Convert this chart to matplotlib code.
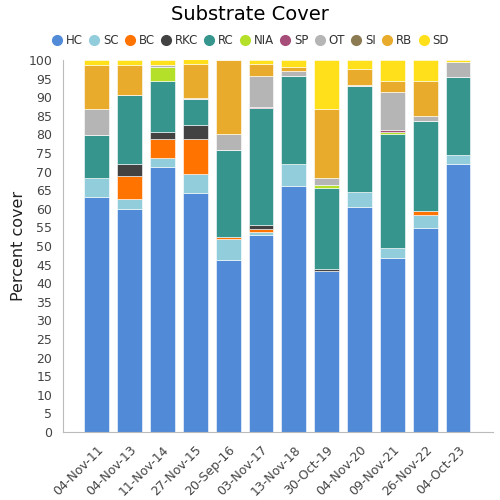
import matplotlib
matplotlib.use("Agg")
import matplotlib.pyplot as plt
import numpy as np
from matplotlib.lines import Line2D

dates = ["04-Nov-11", "04-Nov-13", "11-Nov-14", "27-Nov-15", "20-Sep-16", "03-Nov-17",
         "13-Nov-18", "30-Oct-19", "04-Nov-20", "09-Nov-21", "26-Nov-22", "04-Oct-23"]
categories = ["HC", "SC", "BC", "RKC", "RC", "NIA", "SP", "OT", "SI", "RB", "SD"]

HC  = [63.1, 60.0, 71.2, 64.3, 46.2, 53.0, 66.2, 43.3, 60.6, 46.9, 54.9, 72.0]
SC  = [5.1, 2.6, 2.5, 5.1, 5.7, 0.8, 5.8, 0.0, 3.8, 2.5, 3.3, 2.5]
BC  = [0.0, 6.2, 5.1, 9.4, 0.6, 0.7, 0.0, 0.0, 0.0, 0.0, 1.2, 0.0]
RKC = [0.0, 3.2, 1.8, 3.7, 0.0, 1.1, 0.0, 0.4, 0.0, 0.0, 0.0, 0.0]
RC  = [11.6, 18.6, 13.8, 7.0, 23.2, 31.4, 23.6, 22.0, 28.6, 30.6, 24.3, 21.0]
NIA = [0.0, 0.0, 3.6, 0.0, 0.0, 0.0, 0.0, 0.7, 0.0, 0.6, 0.0, 0.0]
SP  = [0.0, 0.0, 0.0, 0.0, 0.0, 0.4, 0.0, 0.0, 0.0, 0.6, 0.0, 0.0]
OT  = [7.1, 0.0, 0.7, 0.2, 4.3, 8.3, 1.4, 1.8, 0.3, 10.1, 1.2, 3.9]
SI  = [0.0] * 12
RB  = [11.8, 8.1, 0.0, 9.2, 20.0, 3.1, 1.2, 18.7, 4.2, 3.1, 9.5, 0.0]
SD  = [1.3, 1.3, 1.3, 1.3, 0.0, 1.3, 1.8, 13.1, 2.5, 5.6, 5.6, 0.6]

colors = ["#518bd7", "#92cddc", "#ff7300", "#424242", "#36968d", "#b5e02a",
          "#a64d79", "#b5b5b5", "#8c7b52", "#e9ab2b", "#ffe01a"]

series = [HC, SC, BC, RKC, RC, NIA, SP, OT, SI, RB, SD]

fig = plt.figure(figsize=(5, 5), dpi=100)
ax = fig.add_axes([0.1266, 0.136, 0.8584, 0.744])

x = np.arange(len(dates))
bottom = np.zeros(len(dates))
for vals, col in zip(series, colors):
    v = np.array(vals)
    ax.bar(x, v, bottom=bottom, width=0.76, color=col, edgecolor="white", linewidth=0.4)
    bottom += v

ax.set_xlim(-1.02, 12.05)
ax.set_ylim(0, 100)
ax.set_yticks(np.arange(0, 101, 5))
ax.set_xticks(x)
ax.set_xticklabels(dates, rotation=45, ha="right", rotation_mode="anchor")
ax.tick_params(axis="y", length=0, labelsize=9, colors="#444444", pad=8)
ax.tick_params(axis="x", length=0, labelsize=9, colors="#444444", pad=8)
for s in ["top", "right"]:
    ax.spines[s].set_visible(False)
for s in ["left", "bottom"]:
    ax.spines[s].set_color("#bbbbbb")
ax.set_ylabel("Percent cover", fontsize=11.5, color="#222222", labelpad=2)

fig.suptitle("Substrate Cover", fontsize=14, y=0.99)

handles = [Line2D([0], [0], marker="o", linestyle="", markersize=7,
                  markerfacecolor=c, markeredgecolor=c) for c in colors]
fig.legend(handles, categories, loc="center", bbox_to_anchor=(0.5, 0.918), ncol=11,
           frameon=False, fontsize=8.5, handletextpad=0.25, columnspacing=0.45,
           labelcolor="#333333", handlelength=1.0)

fig.savefig("out.png", dpi=100)
